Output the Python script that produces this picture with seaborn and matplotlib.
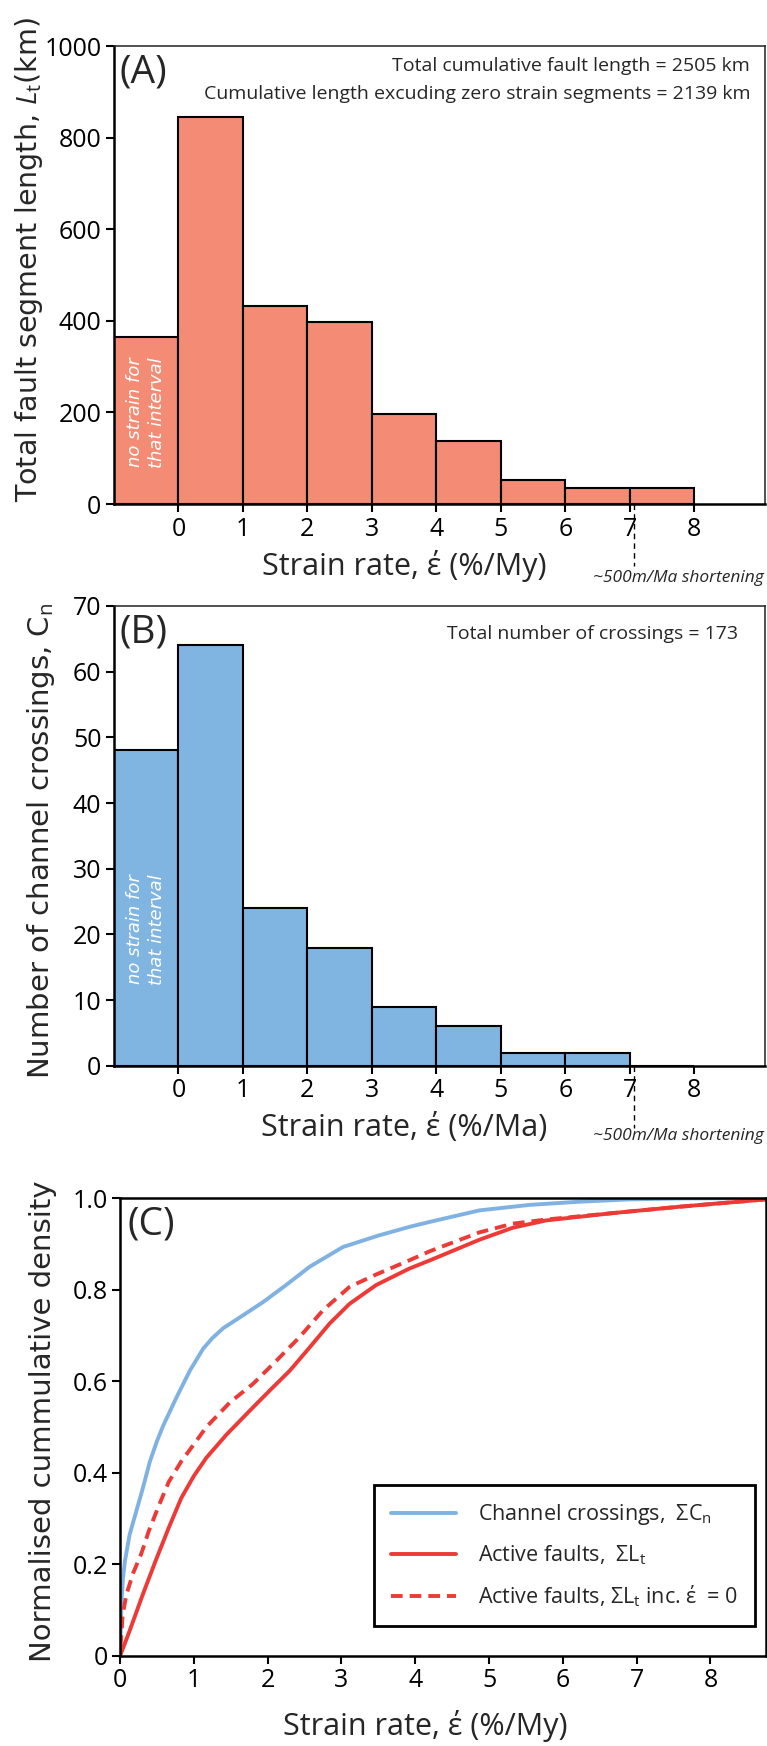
import matplotlib
matplotlib.use("Agg")
import numpy as np
import pandas as pd
import seaborn as sns
import matplotlib.pyplot as plt
from matplotlib.transforms import blended_transform_factory

# ---------------- data ----------------
bin_edges = [-1, 0, 1, 2, 3, 4, 5, 6, 7, 8]
bin_centers = [-0.5, 0.5, 1.5, 2.5, 3.5, 4.5, 5.5, 6.5, 7.5]
fault_length_km = [365, 845, 433, 397, 197, 138, 53, 35, 34]
channel_crossings = [48, 64, 24, 18, 9, 6, 2, 2, 0]
hist_xticks = [0, 1, 2, 3, 4, 5, 6, 7, 8]
a_yticks = [0, 200, 400, 600, 800, 1000]
b_yticks = [0, 10, 20, 30, 40, 50, 60, 70]

blue_x = [0, 0.01, 0.02, 0.04, 0.066, 0.13, 0.22, 0.31, 0.405, 0.5, 0.585, 0.766, 0.946,
          1.126, 1.25, 1.4, 1.667, 1.94, 2.25, 2.57, 3.02, 3.5, 3.92, 4.2, 4.87, 5.55, 6.23,
          6.9, 7.58, 8.75]
blue_y = [0, 0.06, 0.12, 0.17, 0.207, 0.265, 0.316, 0.367, 0.425, 0.469, 0.503, 0.565, 0.623,
          0.671, 0.694, 0.716, 0.744, 0.773, 0.81, 0.85, 0.893, 0.918, 0.937, 0.948, 0.973,
          0.985, 0.992, 0.997, 0.999, 1.0]

red_x = [0, 0.13, 0.31, 0.48, 0.66, 0.83, 1.0, 1.17, 1.44, 1.76, 2.03, 2.30, 2.57, 2.84,
         3.11, 3.47, 3.92, 4.2, 4.87, 5.32, 5.77, 6.67, 7.58, 8.75]
red_y = [0, 0.055, 0.135, 0.207, 0.28, 0.345, 0.393, 0.433, 0.483, 0.536, 0.58, 0.623, 0.674,
         0.726, 0.769, 0.81, 0.846, 0.864, 0.909, 0.935, 0.951, 0.967, 0.981, 0.997]

dash_x = [0.005, 0.02, 0.035, 0.088, 0.175, 0.285, 0.39, 0.53, 0.66, 0.83, 0.99, 1.17,
          1.49, 1.80, 2.12, 2.43, 2.75, 3.11, 3.47, 3.92, 4.2, 4.87, 5.32, 5.77, 6.67,
          7.58, 8.75]
dash_y = [0.02, 0.05, 0.09, 0.135, 0.18, 0.222, 0.273, 0.33, 0.38, 0.425, 0.46, 0.50,
          0.554, 0.594, 0.645, 0.696, 0.755, 0.806, 0.833, 0.864, 0.884, 0.925, 0.944,
          0.953, 0.967, 0.981, 0.997]
c_xticks = [0, 1, 2, 3, 4, 5, 6, 7, 8]
c_yticks = [0, 0.2, 0.4, 0.6, 0.8, 1.0]
c_yticklabels = ["0", "0.2", "0.4", "0.6", "0.8", "1.0"]

# ---------------- style ----------------
sns.set_theme(style="ticks")
plt.rcParams["font.family"] = ["Open Sans", "DejaVu Sans"]
plt.rcParams["mathtext.fontset"] = "custom"
plt.rcParams["mathtext.rm"] = "Open Sans"
plt.rcParams["mathtext.it"] = "Open Sans:italic"
plt.rcParams["mathtext.bf"] = "Open Sans:bold"

SALMON = "#F38B75"
BLUE = "#80B4E1"
LBLUE = "#7FB2E2"
RED = "#EE3A36"
TICK_FS = 18
YLAB_FS = 21
XLAB_FS = 22
PANEL_FS = 28
NOTE_FS = 14

fig = plt.figure(figsize=(7.67, 17.46), dpi=100)
axA = fig.add_axes([0.1486, 0.7113, 0.849, 0.2623])
axB = fig.add_axes([0.1486, 0.3895, 0.849, 0.2635])
axC = fig.add_axes([0.1565, 0.05155, 0.842, 0.2623])


def style_axes(ax, thick=1.8, thin=1.1):
    for s in ["left", "bottom"]:
        ax.spines[s].set_linewidth(thick)
        ax.spines[s].set_color("black")
    for s in ["top", "right"]:
        ax.spines[s].set_linewidth(thin)
        ax.spines[s].set_color("#222222")
        ax.spines[s].set_visible(True)
    ax.tick_params(direction="out", length=6, width=1.5, labelsize=TICK_FS, pad=3,
                   colors="black")
    ax.tick_params(axis="x", pad=3)


def hist_panel(ax, values, color, ylim, yticks, ylabel, ylab_fs, xlabel, letter, note_lines,
               note_x, note_y0, txt_y, ylab_xy):
    sns.histplot(x=bin_centers, weights=values, bins=bin_edges, ax=ax, color=color,
                 edgecolor="black", linewidth=1.5, alpha=1.0)
    ax.set_xlim(-1, 9.1)
    ax.set_ylim(*ylim)
    ax.set_xticks(hist_xticks)
    ax.set_yticks(yticks)
    style_axes(ax)
    ax.set_ylabel(ylabel, fontsize=ylab_fs, family=["DejaVu Sans"])
    ax.yaxis.set_label_coords(*ylab_xy)
    ax.yaxis.label.set_verticalalignment("center")
    ax.set_xlabel(xlabel, fontsize=XLAB_FS)
    ax.xaxis.label.set_verticalalignment("center")
    ax.xaxis.set_label_coords(0.445, -0.135)
    ax.text(0.008, 0.942, letter, transform=ax.transAxes, fontsize=PANEL_FS,
            ha="left", va="center")
    for i, line in enumerate(note_lines):
        ax.text(note_x, note_y0 - i * 0.061, line, transform=ax.transAxes, fontsize=NOTE_FS,
                ha="right", va="center")
    ax.text(-0.5, txt_y, "no strain for\nthat interval", rotation=90, color="white",
            fontsize=13, style="italic", family=["DejaVu Sans"], ha="center", va="center",
            multialignment="center", linespacing=1.25)
    tr = blended_transform_factory(ax.transData, ax.transAxes)
    ax.plot([7.06, 7.06], [0, -0.135], transform=tr, color="black", lw=1.0,
            linestyle=(0, (4, 3)), clip_on=False)


hist_panel(axA, fault_length_km, SALMON, (0, 1000), a_yticks,
           "Total fault segment length, $L_\\mathrm{t}$(km)", 20.5,
           "Strain rate, έ (%/My)", "(A)",
           ["Total cumulative fault length = 2505 km",
            "Cumulative length excuding zero strain segments = 2139 km"],
           0.977, 0.956, 200, (-0.13, 0.535))
axA.text(0.998, -0.162, "~500m/Ma shortening", transform=axA.transAxes, fontsize=12.5,
         style="italic", ha="right", va="center")

hist_panel(axB, channel_crossings, BLUE, (0, 70), b_yticks,
           "Number of channel crossings, C$_\\mathrm{n}$", YLAB_FS,
           "Strain rate, έ (%/Ma)", "(B)",
           ["Total number of crossings = 173"],
           0.959, 0.939, 20.8, (-0.112, 0.489))
axB.text(0.998, -0.152, "~500m/Ma shortening", transform=axB.transAxes, fontsize=12.5,
         style="italic", ha="right", va="center")

# ---------------- panel C ----------------
sns.lineplot(x=blue_x, y=blue_y, ax=axC, color=LBLUE, lw=2.8,
             label="Channel crossings,  ΣC$_\\mathrm{n}$")
sns.lineplot(x=red_x, y=red_y, ax=axC, color=RED, lw=2.8,
             label="Active faults,  ΣL$_\\mathrm{t}$")
sns.lineplot(x=dash_x, y=dash_y, ax=axC, color=RED, lw=2.8,
             label="Active faults, ΣL$_\\mathrm{t}$ inc. έ  = 0")
axC.lines[-1].set_dashes((3.0, 1.8))
for ln in axC.lines:
    ln.set_solid_joinstyle("round")
    ln.set_dash_joinstyle("round")
axC.set_xlim(0, 8.75)
axC.set_ylim(0, 1.0)
axC.set_xticks(c_xticks)
axC.set_yticks(c_yticks)
axC.set_yticklabels(c_yticklabels)
style_axes(axC, thick=1.8, thin=1.8)
for s in ["top", "right"]:
    axC.spines[s].set_color("black")
axC.set_ylabel("Normalised cummulative density", fontsize=YLAB_FS, family=["DejaVu Sans"])
axC.yaxis.set_label_coords(-0.119, 0.513)
axC.yaxis.label.set_verticalalignment("center")
axC.set_xlabel("Strain rate, έ (%/My)", fontsize=XLAB_FS)
axC.xaxis.label.set_verticalalignment("center")
axC.xaxis.set_label_coords(0.472, -0.153)
axC.text(0.012, 0.943, "(C)", transform=axC.transAxes, fontsize=PANEL_FS,
         ha="left", va="center")
leg = axC.legend(loc="lower right", bbox_to_anchor=(0.983, 0.0655), fontsize=15.5,
                 frameon=True, fancybox=False, edgecolor="black", framealpha=1,
                 handlelength=3.0, handletextpad=1.0, labelspacing=0.75, borderpad=0.8,
                 borderaxespad=0.0)
leg.get_frame().set_linewidth(2.0)

fig.savefig("out.png", dpi=100)
